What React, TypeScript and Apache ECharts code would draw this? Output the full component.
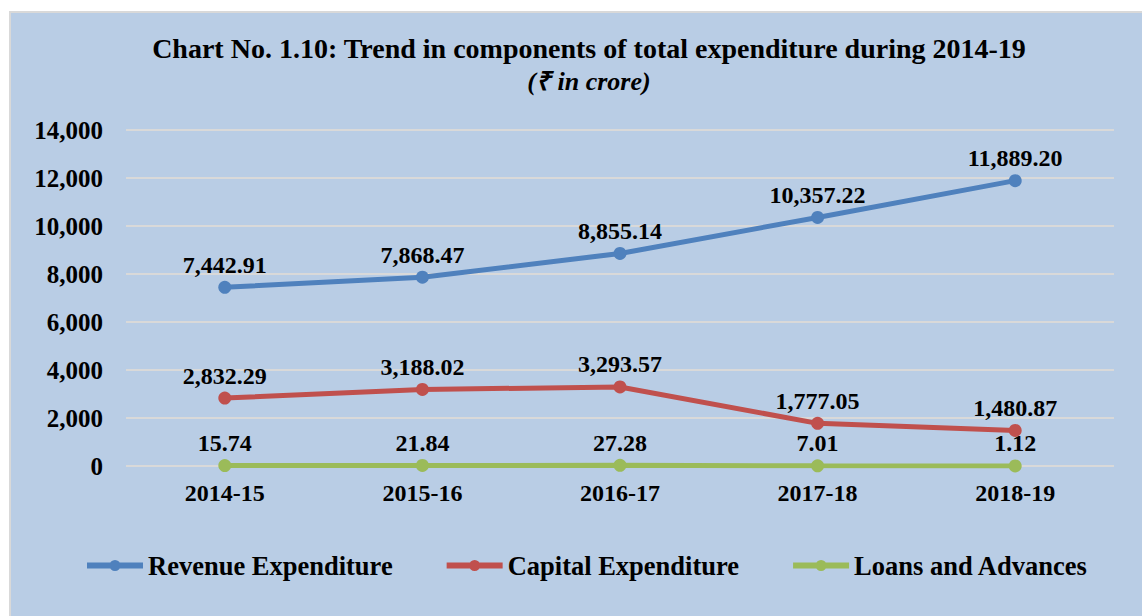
import React, { useEffect, useRef } from "react";
import * as echarts from "echarts";

const categories = ["2014-15", "2015-16", "2016-17", "2017-18", "2018-19"];
const revenueExpenditure = [7442.91, 7868.47, 8855.14, 10357.22, 11889.2];
const capitalExpenditure = [2832.29, 3188.02, 3293.57, 1777.05, 1480.87];
const loansAndAdvances = [15.74, 21.84, 27.28, 7.01, 1.12];
const seriesNames = ["Revenue Expenditure", "Capital Expenditure", "Loans and Advances"];
const colors = ["#4F81BD", "#C0504D", "#9BBB59"];

const FONT = "'Liberation Serif', 'Times New Roman', serif";
const LEGEND_ICON =
  "path://M0,4L56,4L56,10L0,10Z M33.5,7A5.5,5.5,0,1,1,22.5,7A5.5,5.5,0,1,1,33.5,7Z M0,1.5L0.01,1.5 M0,12.5L0.01,12.5";

const fmt = (v: number) =>
  v.toLocaleString("en-US", { minimumFractionDigits: 2, maximumFractionDigits: 2 });

export default function App() {
  const ref = useRef<HTMLDivElement>(null);
  useEffect(() => {
    if (!ref.current) return;
    const chart = echarts.init(ref.current, null, { renderer: "svg" });
    const mk = (name: string, data: number[], color: string) => ({
      name,
      type: "line",
      data,
      symbol: "circle",
      symbolSize: 13,
      lineStyle: { width: 5, color },
      itemStyle: { color },
      label: {
        show: true,
        position: "top",
        distance: 4,
        formatter: (p: any) => fmt(p.value),
        fontFamily: FONT,
        fontWeight: "bold",
        fontSize: 24,
        color: "#000",
      },
    });
    chart.setOption({
      animation: false,
      backgroundColor: "#ffffff",
      graphic: [
        { type: "rect", left: 9, top: 11, shape: { width: 1133, height: 605 }, style: { fill: "#D9D9D9" }, z: -10 },
        { type: "rect", left: 11, top: 13, shape: { width: 1131, height: 603 }, style: { fill: "#B9CDE5" }, z: -9 },
      ],
      title: {
        text: "Chart No. 1.10: Trend in components of total expenditure during 2014-19",
        subtext: "(₹ in crore)",
        left: 584,
        textAlign: "center",
        top: 29,
        itemGap: 6,
        textStyle: { fontFamily: FONT, fontWeight: "bold", fontSize: 28, color: "#000" },
        subtextStyle: { fontFamily: FONT, fontWeight: "bold", fontStyle: "italic", fontSize: 26, color: "#000" },
      },
      legend: {
        data: seriesNames.map((n, i) => ({ name: n, icon: LEGEND_ICON, itemStyle: { color: colors[i] } })),
        top: 547,
        left: 82,
        itemGap: 54,
        itemWidth: 56,
        itemHeight: 14,
        textStyle: { fontFamily: FONT, fontWeight: "bold", fontSize: 26.5, color: "#000" },
      },
      grid: { left: 126, right: 28, top: 130, bottom: 150 },
      xAxis: {
        type: "category",
        data: categories,
        axisLine: { show: false },
        axisTick: { show: false },
        axisLabel: { fontFamily: FONT, fontWeight: "bold", fontSize: 24, color: "#000", margin: 15 },
      },
      yAxis: {
        type: "value",
        min: 0,
        max: 14000,
        interval: 2000,
        axisLine: { show: false },
        axisTick: { show: false },
        splitLine: { lineStyle: { color: "#D9D9D9", width: 2 } },
        axisLabel: {
          fontFamily: FONT,
          fontWeight: "bold",
          fontSize: 25,
          color: "#000",
          margin: 23,
          formatter: (v: number) => v.toLocaleString("en-US"),
        },
      },
      series: [
        mk(seriesNames[0], revenueExpenditure, colors[0]),
        mk(seriesNames[1], capitalExpenditure, colors[1]),
        mk(seriesNames[2], loansAndAdvances, colors[2]),
      ],
    });
    return () => chart.dispose();
  }, []);
  return (
    <div
      ref={ref}
      style={{ width: 1142, height: 616, position: "absolute", left: 0, top: 0 }}
    />
  );
}
